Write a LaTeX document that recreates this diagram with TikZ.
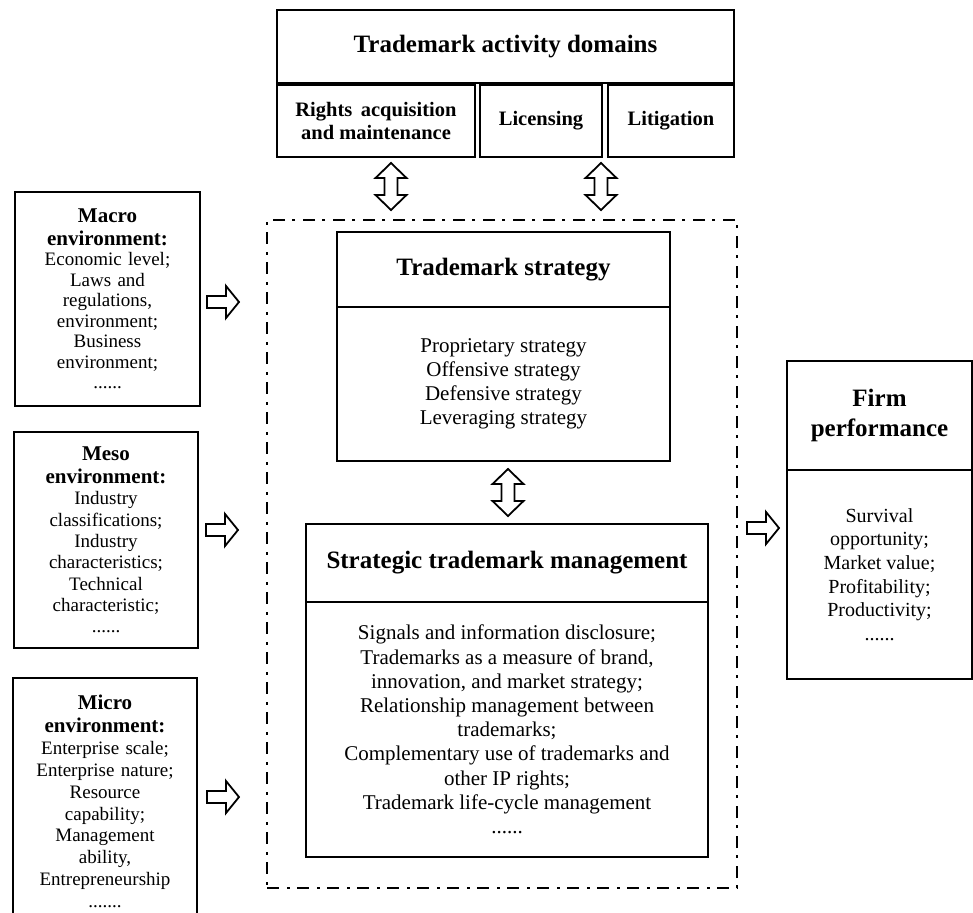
\documentclass[tikz,border=0pt]{standalone}
\usepackage{fontspec}
\setmainfont{Liberation Serif}
\begin{document}
\begin{tikzpicture}[x=1pt,y=-1pt,
  box/.style={draw,line width=2.6pt,inner sep=0pt,align=center},
  ttl/.style={font=\fontsize{25}{30}\selectfont\bfseries},
  sub/.style={font=\fontsize{20.5}{23}\selectfont\bfseries},
  bod/.style={font=\fontsize{21}{24.2}\selectfont},
  frm/.style={draw,line width=2.8pt,inner sep=0pt,dash pattern=on 12pt off 8pt on 3pt off 7pt},
  blk/.style={draw,line width=1.8pt,fill=white,line join=miter},
  rarr/.pic={\draw[blk] (0,-6) -- (19,-6) -- (19,-16) -- (32,0) -- (19,16) -- (19,6) -- (0,6) -- cycle;},
  udarr/.pic={\draw[blk] (0,0) -- (15.5,15) -- (6.5,15) -- (6.5,32) -- (15.5,32) -- (0,47) -- (-15.5,32) -- (-6.5,32) -- (-6.5,15) -- (-15.5,15) -- cycle;}
]
\useasboundingbox (0,0) rectangle (973,912);
\newcommand{\lhead}[1]{{\fontsize{21}{23}\selectfont\bfseries #1\par}}

% top domains
\node[box,ttl,minimum width=457pt,minimum height=73pt] (dom) at (505.5,46.5) {Trademark activity domains};
\node[box,sub,minimum width=198pt,minimum height=72pt] (rights) at (376,121) {Rights\, acquisition\\and maintenance};
\node[box,sub,minimum width=122pt,minimum height=72pt] (lic) at (541,121) {Licensing};
\node[box,sub,minimum width=126pt,minimum height=72pt] (lit) at (671,121) {Litigation};

% dashed frame
\node[frm,minimum width=470pt,minimum height=668pt] (frame) at (502,554) {};

% trademark strategy
\node[box,ttl,minimum width=333pt,minimum height=75pt] (ts) at (503.5,269.5) {Trademark strategy};
\node[box,bod,minimum width=333pt,minimum height=154pt] (tsb) at (503.5,384) {Proprietary strategy\\Offensive strategy\\Defensive strategy\\Leveraging strategy};

% strategic trademark management
\node[box,ttl,minimum width=402pt,minimum height=78pt] (stm) at (507,563) {Strategic trademark management};
\node[box,bod,minimum width=402pt,minimum height=255pt] (stmb) at (507,729.5) {Signals and information disclosure;\\Trademarks as a measure of brand,\\innovation, and market strategy;\\Relationship management between\\trademarks;\\Complementary use of trademarks and\\other IP rights;\\Trademark life-cycle management\\......};

% firm performance
\node[box,ttl,minimum width=185pt,minimum height=109pt] (fp) at (879.5,415.5) {Firm\\performance};
\node[box,font=\fontsize{20}{23.6}\selectfont,minimum width=185pt,minimum height=209pt] (fpb) at (879.5,574.5) {Survival\\opportunity;\\Market value;\\Profitability;\\Productivity;\\......};

% left environments
\node[box,font=\fontsize{19}{20.5}\selectfont,text width=185pt,minimum height=214pt] (macro) at (107.5,299) {\lhead{Macro\\environment:}Economic level;\\Laws and\\regulations,\\environment;\\Business\\environment;\\......};
\node[box,font=\fontsize{19}{21.3}\selectfont,text width=184pt,minimum height=216pt] (meso) at (106,540) {\lhead{Meso\\environment:}Industry\\classifications;\\Industry\\characteristics;\\Technical\\characteristic;\\......};
\node[box,font=\fontsize{19}{21.8}\selectfont,text width=184pt,minimum height=247pt] (micro) at (105,801.5) {\lhead{Micro\\environment:}Enterprise scale;\\Enterprise nature;\\Resource\\capability;\\Management\\ability,\\Entrepreneurship\\.......};

% block arrows
\coordinate (a1) at (207,302);
\coordinate (a2) at (206,530);
\coordinate (a3) at (207,797);
\coordinate (a4) at (747,528);
\coordinate (d1) at (391,163);
\coordinate (d2) at (601,163);
\coordinate (d3) at (508,469);
\pic at (a1) {rarr};
\pic at (a2) {rarr};
\pic at (a3) {rarr};
\pic at (a4) {rarr};
\pic at (d1) {udarr};
\pic at (d2) {udarr};
\pic at (d3) {udarr};
\end{tikzpicture}
\end{document}
